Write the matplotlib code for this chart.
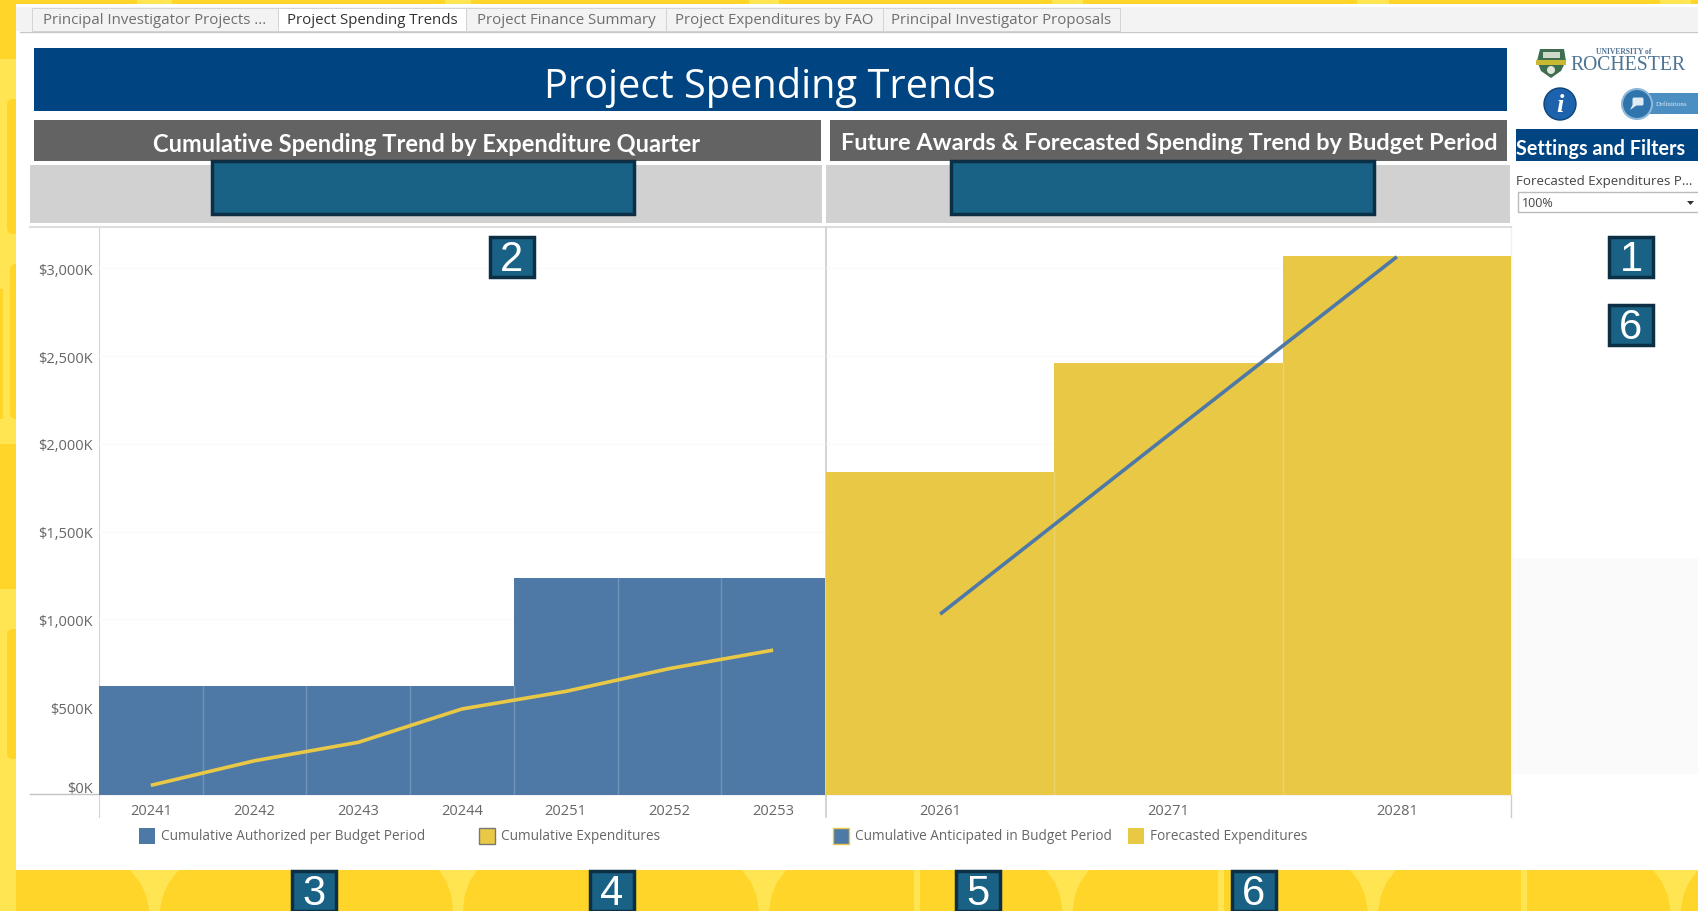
import matplotlib
matplotlib.use('Agg')
import matplotlib.pyplot as plt
from matplotlib.patches import Rectangle, Circle, Polygon, FancyBboxPatch
from matplotlib.transforms import ScaledTranslation

W, H = 1698, 912

# data (in $K)
quarters = ['20241', '20242', '20243', '20244', '20251', '20252', '20253']
authorized = [620, 620, 620, 620, 1233, 1233, 1233]
expenditures = [55, 195, 300, 490, 590, 720, 825]
periods = ['20261', '20271', '20281']
forecasted = [1842, 2458, 3067]
anticipated = [1030, 2050, 3065]
yticks = [0, 500, 1000, 1500, 2000, 2500, 3000]
ylabels = ['$0K', '$500K', '$1,000K', '$1,500K', '$2,000K', '$2,500K', '$3,000K']
tabs = ['Principal Investigator Projects ...', 'Project Spending Trends', 'Project Finance Summary',
        'Project Expenditures by FAO', 'Principal Investigator Proposals']
tab_edges = [32, 278, 466, 666, 883, 1120]

BLUE = '#4e79a7'
GOLD = '#e9c845'
NAVY = '#004481'
TEAL = '#1a6285'
DARK = '#0c2f45'
GREY = '#666666'
LIGHT = '#ffe552'
YELLOW = '#ffd52a'
FONT = 'Open Sans'

fig = plt.figure(figsize=(W / 100, H / 100), dpi=100, facecolor=YELLOW)


def px_axes(z):
    a = fig.add_axes([0, 0, 1, 1], zorder=z)
    a.set_xlim(0, W)
    a.set_ylim(H, 0)
    a.axis('off')
    return a


bg = px_axes(0)
top = px_axes(3)


def box(a, x0, y0, x1, y1, color, **kw):
    a.add_patch(Rectangle((x0, y0), x1 - x0, y1 - y0, facecolor=color, edgecolor=kw.pop('ec', 'none'), **kw))


# wallpaper
for x0, x1 in [(130, 179), (439, 477), (742, 786), (1046, 1089), (1350, 1396), (1653, 1698)]:
    m = (x0 + x1) / 2
    w = (x1 - x0) / 2
    bg.add_patch(Polygon([(m - w, 871), (m + w, 871), (m + w * 0.6, 883), (m + w * 0.35, 896), (m + 5, 912),
                          (m - 5, 912), (m - w * 0.35, 896), (m - w * 0.6, 883)], fc=LIGHT, ec='none'))
    box(bg, m - w * 0.7, 0, m + w * 0.7, 5, LIGHT)
for x in [917, 1221, 1524]:
    box(bg, x - 3, 871, x + 3, 912, LIGHT)
box(bg, 0, 60, 16, 445, LIGHT)
box(bg, 0, 590, 16, 912, LIGHT)
for x0, y0, y1 in [(7, 100, 235), (10, 265, 420), (7, 630, 760)]:
    bg.add_patch(FancyBboxPatch((x0 + 5, y0 + 5), 20, y1 - y0 - 10, boxstyle='round,pad=5,rounding_size=6', fc=YELLOW, ec='none'))
box(bg, 0, 290, 3, 420, YELLOW)

# white page
box(bg, 16, 5, W, 871, 'white')
box(bg, 16, 8, W, 32, '#f3f3f3')
bg.plot([20, W], [33, 33], color='#c8c8c8', lw=1)
for i, t in enumerate(tabs):
    sel = i == 1
    box(bg, tab_edges[i], 9, tab_edges[i + 1], 32, 'white' if sel else '#f3f3f3', ec='#d4d4d4', lw=0.7)
    bg.text((tab_edges[i] + tab_edges[i + 1]) / 2, 20.5, t, ha='center', va='center', fontsize=10.8,
            family=FONT, color='#333333' if sel else '#6e6e6e')

# banners
box(bg, 34, 49, 1507, 112, NAVY)
bg.text(770, 87, 'Project Spending Trends', ha='center', va='center', fontsize=28.6, family=FONT, color='white')
box(bg, 34, 121, 821, 162, '#636363')
box(bg, 830, 121, 1507, 162, '#636363')
bg.text(427, 144, 'Cumulative Spending Trend by Expenditure Quarter', ha='center', va='center', fontsize=17,
        family='Lato', weight='bold', color='white')
bg.text(1169, 144, 'Future Awards & Forecasted Spending Trend by Budget Period', ha='center', va='center', fontsize=16.9,
        family='Lato', weight='bold', color='white')
box(bg, 30, 166, 822, 224, '#d1d1d1')
box(bg, 826, 166, 1510, 224, '#d1d1d1')
bg.plot([30, 1511], [228, 228], color='#dddddd', lw=1.5)

# axis frame lines
bg.plot([30, 1511], [795.5, 795.5], color='#c4c4c4', lw=1)
bg.plot([99, 99], [229, 818], color='#d4d4d4', lw=0.8)
bg.plot([826, 826], [229, 818], color='#cccccc', lw=1.2)
bg.plot([1511, 1511], [229, 796], color='#f2f2f2', lw=1)
bg.plot([1511, 1511], [796, 818], color='#cccccc', lw=1)

# side panel
box(bg, 1512, 559, W, 775, '#fafafa')
box(bg, 1516, 130, W, 162, NAVY)
bg.text(1516, 149, 'Settings and Filters', ha='left', va='center', fontsize=14.2, family='Lato', weight='bold', color='white')
bg.text(1516, 181, 'Forecasted Expenditures P...', ha='left', va='center', fontsize=9.6, family=FONT, color='#444444')
box(bg, 1518, 193, W + 5, 213, 'white', ec='#bbbbbb', lw=1)
bg.text(1522, 204, '100%', ha='left', va='center', fontsize=9, family=FONT, color='#444444')
bg.add_patch(Polygon([(1687, 202), (1694, 202), (1690.5, 206)], fc='#333333', ec='none'))

# logo and buttons
bg.add_patch(Polygon([(1537, 62), (1540, 50), (1564, 50), (1566, 62), (1561, 72), (1551, 79), (1541, 72)], fc='#3f6d4f', ec='none'))
box(bg, 1536, 61, 1566, 66, '#c8b832')
box(bg, 1543, 53, 1560, 59, '#cfd9c8')
bg.add_patch(Circle((1551, 71), 4, fc='#dfe6da', ec='none'))
bg.text(1570, 66, 'ROCHESTER', ha='left', va='center', fontsize=14.2, family='Liberation Serif', color='#4d7393')
bg.text(1596, 52, 'UNIVERSITY of', ha='left', va='center', fontsize=5.5, family='Liberation Serif', weight='bold', color='#4d7393')
bg.add_patch(Circle((1560, 105), 16, fc='#1d62ad', ec='#0e4379', lw=1))
bg.text(1560, 105, 'i', ha='center', va='center', fontsize=19, family='Liberation Serif', style='italic', weight='bold', color='white')
box(bg, 1640, 94, W, 115, '#4a8ec2')
bg.add_patch(Circle((1637, 105), 15, fc='#2f74ad', ec='#8fb8d8', lw=1.5))
bg.add_patch(FancyBboxPatch((1634, 100), 8, 5, boxstyle='round,pad=1.5', fc='#dfeaf3', ec='none'))
bg.add_patch(Polygon([(1633, 105), (1637, 106), (1630, 111)], fc='#dfeaf3', ec='none'))
bg.text(1672, 105, 'Definitions', ha='center', va='center', fontsize=5, family='Liberation Serif', color='#dceaf5')


# charts
def panel(x0, x1, labels, bars, line, bar_col, line_col):
    ax = fig.add_axes([x0 / W, 1 - 796 / H, (x1 - x0) / W, (796 - 229) / H], zorder=1)
    ax.patch.set_alpha(0)
    xs = list(range(len(labels)))
    ax.bar(xs, bars, width=1, color=bar_col, edgecolor='none', zorder=2)
    for x in xs[1:]:
        ax.axvline(x - 0.5, ymax=min(bars[x], bars[x - 1]) / 3229, color='white', alpha=0.2, lw=1, zorder=3)
    ax.plot(xs, line, color=line_col, lw=2.6, zorder=4, solid_capstyle='butt')
    ax.set_xlim(-0.5, len(labels) - 0.5)
    ax.set_ylim(0, 3229)
    ax.set_xticks(xs)
    ax.set_xticklabels(labels, fontsize=10.5, family=FONT, color='#666666')
    ax.tick_params(length=0, pad=6)
    for s in ax.spines.values():
        s.set_visible(False)
    ax.set_yticks(yticks)
    ax.grid(axis='y', color='#fafafa', lw=0.6, zorder=0)
    ax.set_axisbelow(True)
    return ax


left = panel(99, 825, quarters, authorized, expenditures, BLUE, GOLD)
left.set_yticklabels(ylabels, fontsize=10.5, family=FONT, color='#666666')
left.tick_params(axis='y', pad=4.5)
zero = left.yaxis.get_major_ticks()[0].label1
zero.set_transform(zero.get_transform() + ScaledTranslation(0, 8 / 100, fig.dpi_scale_trans))
right = panel(826, 1511, periods, forecasted, anticipated, GOLD, BLUE)
right.set_yticklabels([])

# legends
for x0, col, ec, label in [(139, BLUE, 'none', 'Cumulative Authorized per Budget Period'),
                           (479, GOLD, '#777777', 'Cumulative Expenditures'),
                           (833, BLUE, GOLD, 'Cumulative Anticipated in Budget Period'),
                           (1128, GOLD, 'none', 'Forecasted Expenditures')]:
    box(bg, x0, 829, x0 + 16, 845, col, ec=ec, lw=1)
    bg.text(x0 + 22, 837, label, ha='left', va='center', fontsize=9.8, family=FONT, color='#666666')

# redaction boxes and numbered badges
for x0, x1 in [(212, 634), (951, 1374)]:
    box(top, x0, 162, x1, 215, TEAL, ec=DARK, lw=2.5)
badges = [('2', 512, 258), ('1', 1631, 258), ('6', 1631, 326), ('3', 314, 892), ('4', 612, 892), ('5', 978, 892), ('6', 1254, 892)]
for n, cx, cy in badges:
    box(top, cx - 22, cy - 20, cx + 22, cy + 20, TEAL, ec=DARK, lw=2.5, clip_on=True)
    top.text(cx, cy + 2, n, ha='center', va='center', fontsize=30, family='Liberation Sans', color='white')

fig.savefig('out.png', dpi=100)
